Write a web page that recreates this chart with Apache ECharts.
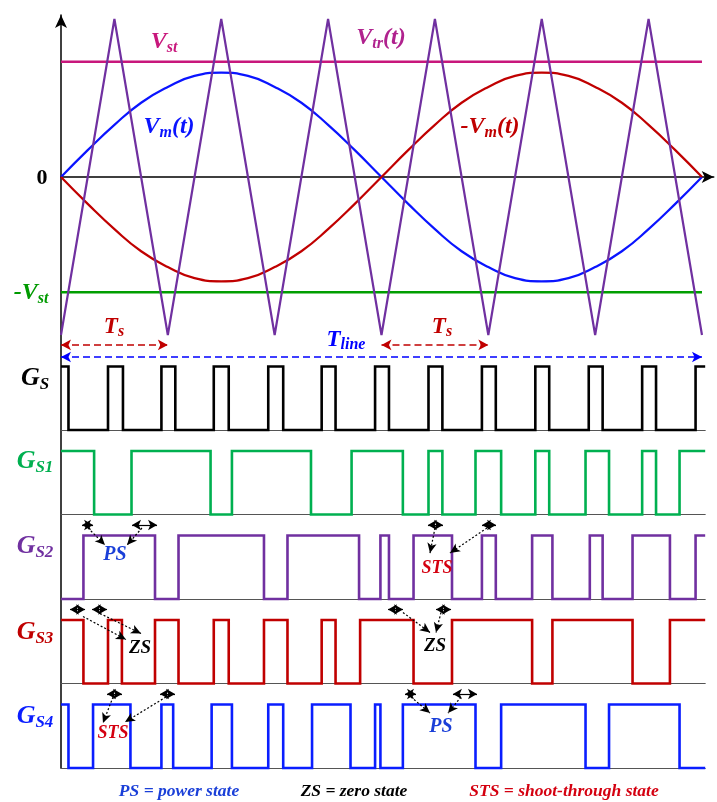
<!DOCTYPE html>
<html>
<head>
<meta charset="utf-8">
<script src="https://cdn.jsdelivr.net/npm/echarts@6/dist/echarts.min.js"></script>
<style>
  html, body { margin: 0; padding: 0; background: #fff; }
  #c { width: 717px; height: 802px; }
</style>
</head>
<body>
<div id="c"></div>
<script>
// Time is measured in carrier periods Ts; one line period T_line = 6 Ts.

// Triangular carrier V_tr(t): vertex times and levels
const carrierT = [0, 0.5, 1, 1.5, 2, 2.5, 3, 3.5, 4, 4.5, 5, 5.5, 6];
const carrierV = [-1, 1, -1, 1, -1, 1, -1, 1, -1, 1, -1, 1, -1];

// Modulating wave V_m(t), sampled every quarter carrier period
const modT = [0, 0.25, 0.5, 0.75, 1, 1.25, 1.5, 1.75, 2, 2.25, 2.5, 2.75, 3,
              3.25, 3.5, 3.75, 4, 4.25, 4.5, 4.75, 5, 5.25, 5.5, 5.75, 6];
const modV = [0, 0.17, 0.33, 0.47, 0.57, 0.64, 0.66, 0.64, 0.57, 0.47, 0.33, 0.17, 0,
              -0.17, -0.33, -0.47, -0.57, -0.64, -0.66, -0.64, -0.57, -0.47, -0.33, -0.17, 0];

// Shoot-through reference level V_st (and -V_st)
const vst = 0.73;
const lineEnd = 6;

// Gate signals: initial level and switching instants (in Ts)
const sigEnd = 6.03;
const gsStart = 1;
const gsEdges = [0.07, 0.44, 0.58, 0.94, 1.07, 1.43, 1.57, 1.94, 2.08, 2.44, 2.57, 2.94,
                 3.07, 3.44, 3.57, 3.94, 4.07, 4.44, 4.57, 4.94, 5.07, 5.44, 5.57, 5.94];
const gs1Start = 1;
const gs1Edges = [0.31, 0.66, 1.40, 1.60, 2.34, 2.72, 3.20, 3.44, 3.57, 3.88, 4.12, 4.44,
                  4.57, 4.91, 5.13, 5.44, 5.57, 5.79];
const gs2Start = 0;
const gs2Edges = [0.21, 0.88, 1.10, 1.90, 2.12, 2.79, 2.99, 3.07, 3.30, 3.66, 3.94, 4.07,
                  4.41, 4.60, 4.95, 5.07, 5.35, 5.70, 5.94];
const gs3Start = 1;
const gs3Edges = [0.21, 0.44, 0.57, 0.88, 1.10, 1.43, 1.57, 1.90, 2.12, 2.44, 2.57, 2.80,
                  3.30, 3.66, 4.41, 4.60, 5.35, 5.70];
const gs4Start = 1;
const gs4Edges = [0.07, 0.30, 0.65, 0.94, 1.05, 1.41, 1.60, 1.94, 2.08, 2.35, 2.71, 2.94,
                  2.99, 3.20, 3.88, 4.12, 4.91, 5.13, 5.79];

// ---------------------------------------------------------------------------
const X0 = 61;          // left edge of the time axis (px)
const TS_PX = 106.83;   // one carrier period in px
const V_PX = 158;       // unit amplitude in px (analog panel)
const UNIT = 63.5;      // logic-high height in px (gate panels)
const BASE0 = 430;      // baseline of first gate panel
const PITCH = 84.5;     // spacing of gate panels
const YTOP = 1.25;      // headroom of gate panels for annotations
const XMAX_TOP = 6.11;  // end of the analog time axis (arrow)

const SERIF = '"Liberation Serif", "Times New Roman", serif';
const C = {
  axis: '#000000', vst: '#c8177c', nvst: '#009e00', tri: '#7030a0',
  vm: '#0a14ff', nvm: '#c00000', gs: '#000000', gs1: '#00b050',
  gs2: '#7030a0', gs3: '#c00000', gs4: '#0a1eff', ps: '#1a3fd8', sts: '#d40010'
};

function pairs(xs, ys) { return xs.map((x, i) => [x, ys[i]]); }
function steps(start, edges, tEnd) {
  const pts = [[0, start]];
  let lv = start;
  edges.forEach(e => { pts.push([e, lv]); lv = 1 - lv; pts.push([e, lv]); });
  pts.push([tEnd, lv]);
  return pts;
}

// annotation helpers (coordinates in the panel's own axis units)
function dbl(x1, x2, y) {
  return [{ coord: [x1, y], symbol: 'arrow', symbolSize: [8, 9],
            lineStyle: { type: 'solid', width: 1.2, color: '#000' } },
          { coord: [x2, y], symbol: 'arrow', symbolSize: [8, 9] }];
}
function ptr(x1, y1, x2, y2) {
  return [{ coord: [x1, y1], symbol: 'none',
            lineStyle: { type: [2, 2], width: 1.2, color: '#000' } },
          { coord: [x2, y2], symbol: 'arrow', symbolSize: [7, 10] }];
}
function span(x1, x2, y, color) {
  return [{ coord: [x1, y], symbol: 'arrow', symbolSize: [8, 10],
            lineStyle: { type: [7, 4], width: 1.5, color: color } },
          { coord: [x2, y], symbol: 'arrow', symbolSize: [8, 10] }];
}
function marks(data) {
  return { silent: true, animation: false, label: { show: false },
           emphasis: { disabled: true }, lineStyle: { type: 'solid', width: 1, color: '#000' },
           data: data };
}

const grids = [], xAxes = [], yAxes = [], series = [];
const hidden = { axisLine: { show: false }, axisTick: { show: false },
                 axisLabel: { show: false }, splitLine: { show: false } };

// ---- analog panel ----
grids.push({ left: X0, top: 177 - V_PX, width: XMAX_TOP * TS_PX, height: 2.2 * V_PX });
xAxes.push({ gridIndex: 0, type: 'value', min: 0, max: XMAX_TOP,
  axisLine: { show: true, onZero: true, symbol: ['none', 'arrow'], symbolSize: [9, 12],
              lineStyle: { color: C.axis, width: 1.5 } },
  axisTick: { show: false }, axisLabel: { show: false }, splitLine: { show: false } });
yAxes.push(Object.assign({ gridIndex: 0, type: 'value', min: -1.2, max: 1 }, hidden));

const lineBase = { type: 'line', xAxisIndex: 0, yAxisIndex: 0, symbol: 'none',
                   silent: true, animation: false, clip: false };
series.push(Object.assign({}, lineBase, { name: 'Vst', data: [[0, vst], [lineEnd, vst]],
  lineStyle: { color: C.vst, width: 2.5 } }));
series.push(Object.assign({}, lineBase, { name: '-Vst', data: [[0, -vst], [lineEnd, -vst]],
  lineStyle: { color: C.nvst, width: 2.5 },
  markLine: marks([
    span(0, 1, -1.063, '#c00000'),
    span(3, 4, -1.063, '#c00000'),
    span(0, lineEnd, -1.139, '#0000ff')
  ]) }));
series.push(Object.assign({}, lineBase, { name: 'Vm', smooth: true,
  data: pairs(modT, modV), lineStyle: { color: C.vm, width: 2.2 } }));
series.push(Object.assign({}, lineBase, { name: '-Vm', smooth: true,
  data: pairs(modT, modV.map(v => -v)), lineStyle: { color: C.nvm, width: 2.2 } }));
series.push(Object.assign({}, lineBase, { name: 'Vtr',
  data: pairs(carrierT, carrierV), lineStyle: { color: C.tri, width: 2.2 } }));

// ---- gate panels ----
const gates = [
  { name: 'GS',  start: gsStart,  edges: gsEdges,  color: C.gs },
  { name: 'GS1', start: gs1Start, edges: gs1Edges, color: C.gs1 },
  { name: 'GS2', start: gs2Start, edges: gs2Edges, color: C.gs2, notes: [
      dbl(0.197, 0.300, 1.165), dbl(0.665, 0.899, 1.165),
      ptr(0.253, 1.118, 0.412, 0.850), ptr(0.758, 1.118, 0.618, 0.850),
      dbl(3.435, 3.576, 1.165), dbl(3.941, 4.072, 1.165),
      ptr(3.501, 1.118, 3.454, 0.724), ptr(3.988, 1.118, 3.641, 0.724)
  ] },
  { name: 'GS3', start: gs3Start, edges: gs3Edges, color: C.gs3, notes: [
      dbl(0.084, 0.225, 1.165), dbl(0.290, 0.431, 1.165),
      ptr(0.206, 1.055, 0.608, 0.693), ptr(0.365, 1.102, 0.749, 0.787),
      dbl(3.061, 3.201, 1.165), dbl(3.510, 3.651, 1.165),
      ptr(3.201, 1.118, 3.454, 0.803), ptr(3.557, 1.118, 3.510, 0.803)
  ] },
  { name: 'GS4', start: gs4Start, edges: gs4Edges, color: C.gs4, notes: [
      dbl(0.431, 0.571, 1.165), dbl(0.927, 1.067, 1.165),
      ptr(0.487, 1.118, 0.393, 0.709), ptr(0.983, 1.118, 0.599, 0.724),
      dbl(3.220, 3.323, 1.165), dbl(3.669, 3.894, 1.165),
      ptr(3.276, 1.118, 3.454, 0.866), ptr(3.744, 1.118, 3.623, 0.866)
  ] }
];

gates.forEach((g, k) => {
  const gi = k + 1;
  const base = BASE0 + PITCH * k;
  grids.push({ left: X0, top: base - YTOP * UNIT, width: sigEnd * TS_PX, height: YTOP * UNIT });
  xAxes.push({ gridIndex: gi, type: 'value', min: 0, max: sigEnd,
    axisLine: { show: true, onZero: true, lineStyle: { color: '#555', width: 1.2 } },
    axisTick: { show: false }, axisLabel: { show: false }, splitLine: { show: false } });
  yAxes.push(Object.assign({ gridIndex: gi, type: 'value', min: 0, max: YTOP }, hidden));
  const s = { type: 'line', name: g.name, xAxisIndex: gi, yAxisIndex: gi, symbol: 'none',
    silent: true, animation: false, clip: false,
    data: steps(g.start, g.edges, sigEnd),
    lineStyle: { color: g.color, width: 2.6, join: 'miter' } };
  if (g.notes) s.markLine = marks(g.notes);
  series.push(s);
});

// ---- full-height vertical axis with arrow ----
grids.push({ left: X0, top: 15, width: 10, height: 753 });
xAxes.push(Object.assign({ gridIndex: 6, type: 'value', min: 0, max: 1 }, hidden));
yAxes.push({ gridIndex: 6, type: 'value', min: 0, max: 1, position: 'left',
  axisLine: { show: true, onZero: false, symbol: ['none', 'arrow'], symbolSize: [9, 13],
              lineStyle: { color: C.axis, width: 1.5 } },
  axisTick: { show: false }, axisLabel: { show: false }, splitLine: { show: false } });

// ---- text labels ----
function rich(size, subSize, color) {
  const f = { fontFamily: SERIF, fontWeight: 'bold', fontStyle: 'italic', fill: color };
  return {
    m: Object.assign({ fontSize: size, lineHeight: Math.round(size * 1.15) }, f),
    s: Object.assign({ fontSize: subSize, lineHeight: subSize, verticalAlign: 'bottom' }, f),
    r: Object.assign({}, f, { fontSize: size, lineHeight: Math.round(size * 1.15), fontStyle: 'normal' })
  };
}
function label(x, y, text, color, size, subSize) {
  return { type: 'text', x: x, y: y, silent: true, z: 100,
    style: { text: text, rich: rich(size, subSize || size, color), fill: color,
             align: 'center', verticalAlign: 'middle' } };
}
const labels = [
  label(164, 42, '{m|V}{s|st}', C.vst, 24, 16),
  label(381, 38, '{m|V}{s|tr}{m|(t)}', '#b0228e', 24, 16),
  label(169, 127, '{m|V}{s|m}{m|(t)}', C.vm, 24, 16),
  label(490, 127, '{m|-V}{s|m}{m|(t)}', C.nvm, 24, 16),
  label(42, 178, '{r|0}', '#000', 22),
  label(31, 293, '{m|-V}{s|st}', '#009a00', 24, 16),
  label(114, 327, '{m|T}{s|s}', '#c00000', 23, 16),
  label(442, 327, '{m|T}{s|s}', '#c00000', 23, 16),
  label(346, 340, '{m|T}{s|line}', '#0000ff', 23, 16),
  label(35, 378, '{m|G}{s|S}', '#000', 26, 17),
  label(35, 461, '{m|G}{s|S1}', C.gs1, 26, 17),
  label(35, 546, '{m|G}{s|S2}', C.gs2, 26, 17),
  label(35, 632, '{m|G}{s|S3}', C.gs3, 26, 17),
  label(35, 716, '{m|G}{s|S4}', C.gs4, 26, 17),
  label(115, 555, '{m|PS}', C.ps, 20),
  label(140, 648, '{m|ZS}', '#000', 19),
  label(113, 733, '{m|STS}', C.sts, 18),
  label(437, 568, '{m|STS}', C.sts, 18),
  label(435, 646, '{m|ZS}', '#000', 19),
  label(441, 727, '{m|PS}', C.ps, 20),
  label(179, 791, '{m|PS = power state}', C.ps, 17.5),
  label(354, 791, '{m|ZS = zero state}', '#000', 17.5),
  label(564, 791, '{m|STS = shoot-through state}', C.sts, 17.5)
];

const chart = echarts.init(document.getElementById('c'), null, { renderer: 'canvas' });
chart.setOption({
  backgroundColor: '#ffffff',
  animation: false,
  grid: grids,
  xAxis: xAxes,
  yAxis: yAxes,
  series: series,
  graphic: labels
});
</script>
</body>
</html>
